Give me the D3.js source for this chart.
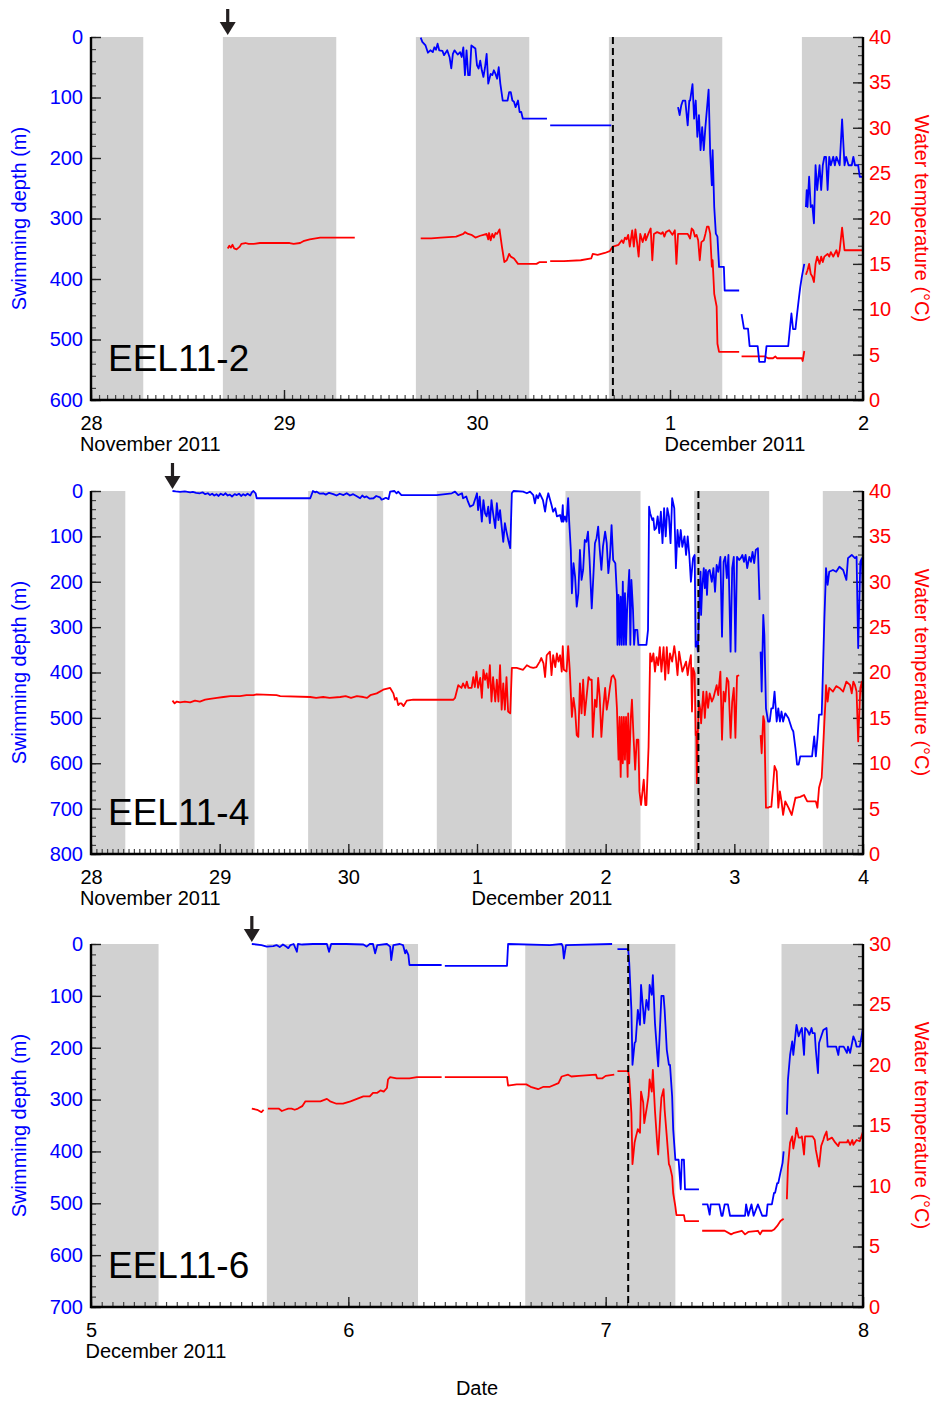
<!DOCTYPE html>
<html>
<head>
<meta charset="utf-8">
<script src="https://cdn.jsdelivr.net/npm/d3@7"></script>
<style>
  body { margin: 0; background: #fff; }
  svg text { font-family: "Liberation Sans", Arial, Helvetica, sans-serif; }
</style>
</head>
<body>
<svg id="chart" width="935" height="1401"></svg>
<script>
// ---------------------------------------------------------------------------
// Data: time is hours after 00:00 of each panel's first date.
// [hour, value]; a null value breaks the line (no record).
// ---------------------------------------------------------------------------
const tagNames = ["EEL11-2", "EEL11-4", "EEL11-6"];
const startDates = [[2011, 10, 28], [2011, 10, 28], [2011, 11, 5]];
const spanDays = [4, 6, 3];
const depthMax = [600, 800, 700];
const tempMax = [40, 40, 30];
const releaseHour = [17.0, 15.2, 15.0];
const eventHour = [64.9, 113.3, 50.1];
const monthLabels = [
  [[0, "November 2011"], [72, "December 2011"]],
  [[0, "November 2011"], [72, "December 2011"]],
  [[0, "December 2011"]]
];

// night periods (shaded)
const nights2 = [[0, 6.5], [16.4, 30.5], [40.4, 54.5], [64.4, 78.5], [88.4, 96]];
const nights4 = [[0, 6.4], [16.5, 30.5], [40.5, 54.5], [64.5, 78.5], [88.5, 102.5], [112.5, 126.5], [136.5, 144]];
const nights6 = [[0, 6.3], [16.4, 30.5], [40.5, 54.5], [64.4, 72]];

// EEL11-2
const eel2Depth = [[41.0,1],[41.2,8],[41.6,14],[41.9,26],[42.2,22],[42.5,25],[42.7,17],[42.9,21],[43.1,11],[43.3,22],[43.7,23],[43.9,30],[44.3,22],[44.6,34],[44.8,52],[45.0,28],[45.2,22],[45.6,29],[45.9,25],[46.1,33],[46.3,17],[46.5,63],[46.7,22],[46.9,63],[47.1,63],[47.3,14],[47.8,19],[48.0,47],[48.2,52],[48.4,39],[48.6,55],[48.8,66],[49.0,50],[49.2,28],[49.4,77],[49.7,61],[49.9,63],[50.1,55],[50.3,61],[50.5,69],[50.7,50],[50.9,77],[51.2,105],[51.4,105],[51.8,105],[52.0,91],[52.2,91],[52.4,105],[52.6,107],[52.8,116],[53.1,105],[53.3,124],[53.5,124],[53.7,135],[56.7,135],[56.9,null],[57.1,146],[64.7,146],[68.0,null],[73.0,116],[73.2,129],[73.4,113],[73.6,105],[73.9,105],[74.2,146],[74.4,105],[74.5,105],[74.8,78],[75.0,135],[75.2,105],[75.4,165],[75.6,129],[75.8,187],[76.0,149],[76.2,187],[76.4,149],[76.8,87],[77.0,193],[77.2,245],[77.3,187],[77.5,281],[77.7,325],[77.9,330],[78.1,380],[78.7,380],[78.8,419],[80.6,419],[80.75,null],[80.9,458],[81.2,482],[81.7,482],[81.9,511],[82.9,511],[83.1,537],[83.8,537],[84.0,511],[86.7,511],[87.1,457],[87.3,483],[87.6,483],[87.8,458],[88.0,435],[88.2,413],[88.4,396],[88.7,375],[88.8,null],[88.9,281],[89.0,253],[89.1,281],[89.3,231],[89.5,281],[89.7,278],[89.9,308],[90.1,212],[90.3,253],[90.6,212],[90.8,253],[91.0,212],[91.2,198],[91.4,198],[91.6,253],[91.8,198],[92.0,212],[92.3,198],[92.5,212],[92.7,198],[93.1,212],[93.4,136],[93.7,212],[93.9,198],[94.2,212],[94.6,212],[94.8,198],[95.0,212],[95.4,212],[95.6,231],[96.0,231]];
const eel2Temp = [[17.0,16.7],[17.2,17.0],[17.4,16.8],[17.6,17.1],[17.8,16.7],[18.1,16.6],[18.5,16.9],[18.7,17.2],[19.2,17.3],[19.6,17.2],[20.2,17.2],[21.0,17.3],[24.7,17.3],[25.2,17.2],[26.0,17.3],[26.4,17.5],[27.2,17.7],[28.5,17.9],[30.1,17.9],[32.8,17.9],[36.0,null],[41.0,17.8],[42.3,17.8],[43.5,17.9],[45.4,18.0],[46.3,18.3],[46.5,18.5],[46.9,18.3],[47.3,18.2],[47.8,17.9],[48.4,18.1],[48.8,18.2],[49.2,18.3],[49.4,17.7],[49.5,18.4],[49.7,17.6],[49.9,18.3],[50.1,17.9],[50.3,18.4],[50.5,18.3],[50.8,18.8],[51.1,16.9],[51.4,15.2],[51.7,15.4],[52.0,16.1],[52.2,15.8],[52.6,15.6],[53.1,15.0],[53.5,15.0],[55.4,15.0],[55.8,15.2],[56.7,15.2],[56.9,null],[57.1,15.3],[58.8,15.3],[60.9,15.4],[62.2,15.6],[62.4,16.1],[63.0,16.0],[63.9,16.2],[64.5,16.4],[64.8,16.8],[64.9,16.9],[65.6,17.1],[66.0,17.6],[66.2,17.3],[66.4,17.9],[66.6,17.7],[66.8,18.2],[67.0,16.9],[67.3,18.7],[67.5,16.9],[67.7,18.8],[67.9,17.4],[68.1,15.8],[68.3,18.3],[68.6,17.4],[68.9,18.3],[69.0,17.6],[69.3,18.3],[69.6,18.9],[69.8,15.4],[70.0,18.3],[70.4,18.5],[70.9,18.3],[71.1,18.5],[71.3,18.0],[71.5,18.5],[71.9,18.7],[72.3,18.2],[72.6,18.7],[72.8,15.0],[73.0,18.3],[73.6,18.3],[74.2,18.3],[74.5,17.8],[74.7,18.9],[74.9,18.7],[75.1,18.0],[75.3,18.2],[75.5,17.6],[75.7,15.4],[75.9,17.4],[76.2,17.6],[76.4,18.3],[76.6,19.1],[76.8,19.1],[77.0,18.3],[77.2,14.7],[77.3,15.4],[77.5,11.7],[77.8,10.3],[77.9,6.2],[78.1,5.3],[80.6,5.3],[80.75,null],[80.9,4.8],[83.8,4.8],[84.2,4.6],[84.8,4.6],[85.1,4.8],[85.3,4.6],[88.4,4.6],[88.5,4.3],[88.7,5.4],[88.8,null],[88.9,13.8],[89.1,14.3],[89.3,15.0],[89.5,13.9],[89.7,13.6],[89.9,13.0],[90.1,15.0],[90.3,15.8],[90.6,15.0],[90.8,15.8],[91.0,15.2],[91.2,15.8],[91.6,16.1],[91.8,15.8],[92.0,16.3],[92.3,15.8],[92.7,16.5],[92.9,15.8],[93.1,16.5],[93.4,19.0],[93.7,16.5],[96.0,16.5]];

// EEL11-4
const eel4Depth = [[15.2,0],[15.8,1],[16.6,2],[17.5,1],[18.5,3],[19.0,2],[19.6,4],[20.3,5],[20.8,3],[21.3,7],[21.8,5],[22.2,9],[22.6,6],[23.0,10],[23.4,7],[23.8,11],[24.2,6],[24.7,9],[25.1,5],[25.5,10],[25.9,8],[26.3,12],[26.8,7],[27.2,9],[27.6,6],[28.0,11],[28.4,7],[28.8,10],[29.2,6],[29.7,10],[30.0,3],[30.3,0],[30.7,5],[30.9,16],[40.9,16],[41.4,0],[41.8,3],[42.1,1.5],[42.7,6],[43.3,5],[43.8,8],[44.4,4],[45.2,7],[45.8,10],[46.4,6],[47.1,9],[47.7,5],[48.3,10],[48.9,7],[49.5,11],[50.2,16],[50.6,10],[51.0,14],[51.4,12],[52.0,17],[52.7,16],[53.2,11],[53.9,14],[54.2,19],[54.5,18],[55.0,15],[55.5,18],[55.8,1.5],[56.6,0],[57.0,5],[57.3,1.5],[57.9,9],[58.8,9],[64.5,9],[67.3,5],[67.9,1.5],[68.5,9],[69.2,5],[69.4,16],[70.0,12],[70.3,23],[70.7,34.5],[71.3,31],[71.8,12.5],[72.0,5],[72.2,42],[72.5,12.5],[72.9,67.5],[73.2,20],[73.5,49],[73.8,56],[74.1,34.5],[74.4,71],[74.7,20],[75.0,49],[75.4,82],[75.7,27],[76.0,64],[76.3,42],[76.6,78],[76.9,112],[77.2,71],[77.5,89.6],[77.9,112],[78.2,126],[78.5,5],[78.8,0],[80.6,1.5],[81.3,5],[81.9,1.5],[82.5,9],[82.8,27],[83.1,9],[83.4,16],[83.7,5],[84.3,20],[84.7,45.6],[85.0,20],[85.3,5],[85.9,31],[86.2,45.6],[86.6,38],[86.9,56],[87.5,53],[87.8,67.6],[88.0,31],[88.1,67.6],[88.4,56],[88.7,67.6],[89.0,16],[89.2,67.6],[89.5,130],[89.7,225.5],[90.0,159],[90.3,189],[90.6,255],[90.9,225.5],[91.2,130],[91.5,196],[91.8,174],[92.1,108],[92.4,112],[92.7,89.6],[93.0,152],[93.4,258.6],[93.7,189],[94.0,115],[94.3,104],[94.6,78.6],[94.9,130],[95.2,174],[95.5,122],[95.9,89.6],[96.2,115],[96.5,181],[96.8,145],[97.1,75],[97.4,152],[97.8,159],[98.1,229],[98.2,339],[98.4,229],[98.6,339],[98.8,233],[99.0,339],[99.2,200],[99.4,339],[99.6,225],[99.8,339],[100.0,262],[100.4,174],[100.6,339],[100.8,196],[101.1,262],[101.3,339],[101.5,306],[101.9,306],[102.1,339],[103.6,339],[103.9,306],[104.1,34.5],[104.3,49],[104.7,64],[104.9,60],[105.1,86],[105.4,82],[105.7,56],[106.0,93],[106.3,45.6],[106.6,115],[106.9,38],[107.2,100],[107.5,38],[107.8,56],[108.1,115],[108.4,16],[108.8,38],[109.1,170],[109.4,86],[109.7,123],[110.0,86],[110.3,123],[110.7,100],[111.0,141],[111.3,100],[111.6,141],[111.9,200],[112.3,148],[112.6,141],[112.8,343],[113.0,332],[113.2,354],[113.4,273],[113.7,178],[113.8,273],[114.0,214],[114.3,170],[114.5,214],[114.7,174],[114.9,229],[115.1,178],[115.4,174],[115.8,200],[116.1,170],[116.4,222],[116.7,163],[117.0,178],[117.4,145],[117.7,321],[118.0,156],[118.3,145],[118.6,192],[118.9,141],[119.3,354],[119.6,170],[119.9,145],[120.2,354],[120.5,145],[120.9,152],[121.2,148],[121.5,141],[121.8,156],[122.1,141],[122.4,170],[122.8,145],[123.1,156],[123.4,134],[123.7,159],[124.0,130],[124.4,126],[124.7,240],[124.8,null],[124.9,354],[125.1,442],[125.4,273],[125.6,317],[125.9,479],[126.3,508],[126.6,508],[126.9,479],[127.2,479],[127.5,442],[127.9,508],[128.2,479],[128.5,508],[128.8,486],[129.1,508],[129.5,490],[130.1,501],[130.7,523],[131.0,530],[131.4,567],[131.7,603],[132.0,603],[132.3,585],[132.6,585],[134.5,585],[134.9,541],[135.2,585],[135.5,545],[135.8,493],[136.3,493],[136.8,280],[137.0,211],[137.1,170],[137.4,207],[137.7,178],[138.4,174],[139.0,178],[139.6,167],[140.3,174],[140.9,196],[141.2,148],[141.9,141],[142.5,148],[142.8,145],[143.1,346],[143.5,156],[143.8,148],[144.0,236]];
const eel4Temp = [[15.2,16.9],[15.6,16.6],[16.0,16.8],[16.6,16.7],[17.5,16.8],[18.5,16.7],[19.4,16.9],[20.3,16.8],[21.3,17.0],[22.2,17.1],[23.5,17.2],[24.7,17.3],[26.0,17.4],[27.8,17.4],[29.0,17.5],[30.3,17.5],[30.9,17.6],[34.6,17.5],[35.3,17.4],[40.9,17.3],[42.0,17.2],[43.3,17.3],[44.5,17.2],[46.5,17.3],[47.5,17.4],[48.5,17.2],[49.6,17.4],[50.8,17.3],[51.5,17.2],[52.1,17.5],[53.3,17.7],[54.5,18.1],[55.8,18.3],[56.4,17.7],[56.7,17.0],[57.0,17.2],[57.3,16.4],[57.6,16.6],[57.9,16.6],[58.3,16.3],[58.9,16.9],[60.1,17.0],[64.5,17.0],[67.6,17.0],[67.9,17.2],[68.5,18.6],[69.1,18.3],[69.4,18.8],[69.8,18.3],[70.1,19.0],[70.4,18.3],[71.0,18.3],[71.3,19.5],[71.6,18.4],[71.9,20.1],[72.2,18.3],[72.6,19.4],[72.9,17.2],[73.2,20.3],[73.5,19.2],[73.8,19.9],[74.1,18.3],[74.4,20.8],[74.7,16.8],[75.0,19.5],[75.4,16.8],[75.7,19.2],[76.0,16.8],[76.3,20.8],[76.6,15.9],[76.9,18.8],[77.2,15.9],[77.5,19.5],[77.8,15.7],[78.2,15.5],[78.5,20.5],[79.4,20.5],[80.6,20.3],[81.3,20.8],[81.9,20.6],[82.5,20.5],[83.1,20.6],[83.7,21.2],[84.0,21.6],[84.4,21.0],[84.7,19.5],[85.0,21.9],[85.6,22.3],[85.9,19.7],[86.2,21.9],[86.6,20.6],[86.9,22.1],[87.2,21.2],[87.5,21.9],[87.8,20.1],[88.0,22.9],[88.2,20.3],[88.7,20.1],[89.0,22.9],[89.3,20.3],[89.7,15.1],[90.0,17.2],[90.3,15.9],[90.6,13.1],[90.9,12.9],[91.2,18.8],[91.5,15.5],[91.8,19.2],[92.1,15.3],[92.8,19.5],[93.1,19.2],[93.4,19.2],[93.6,12.9],[94.0,17.0],[94.3,16.2],[94.6,19.4],[94.9,17.2],[95.2,12.9],[95.6,16.4],[95.9,18.3],[96.2,15.9],[96.5,17.0],[96.8,18.4],[97.1,19.5],[97.4,19.7],[97.8,19.2],[98.1,16.1],[98.4,10.4],[98.6,15.1],[98.8,8.5],[99.0,15.1],[99.2,10.0],[99.4,15.1],[99.6,10.4],[99.8,15.1],[100.1,8.5],[100.2,15.5],[100.4,10.0],[100.7,15.1],[100.9,17.0],[101.2,12.9],[101.5,9.3],[101.8,12.6],[102.1,12.6],[102.3,6.9],[102.6,5.4],[103.1,8.2],[103.4,5.4],[103.6,5.4],[104.0,11.8],[104.3,22.1],[104.6,21.2],[104.9,22.1],[105.2,20.1],[105.5,21.7],[105.8,20.8],[106.1,22.8],[106.4,20.1],[106.8,22.8],[107.1,19.2],[107.4,22.8],[107.7,19.9],[108.0,22.1],[108.4,21.2],[108.8,22.9],[109.1,21.6],[109.4,19.7],[109.7,22.3],[110.3,20.1],[111.0,21.2],[111.3,19.7],[111.6,21.0],[111.9,21.9],[112.1,15.7],[112.3,20.5],[112.6,19.9],[112.8,13.1],[112.9,13.5],[113.0,7.8],[113.2,13.5],[113.4,16.8],[113.7,15.7],[113.8,14.4],[114.2,17.9],[114.5,15.0],[114.8,17.9],[115.1,16.1],[115.4,17.7],[115.8,16.8],[116.1,17.2],[116.4,17.9],[116.7,18.6],[117.0,17.5],[117.4,20.1],[117.7,12.6],[118.0,17.9],[118.3,16.8],[118.6,19.4],[118.9,19.0],[119.3,12.8],[119.6,16.8],[119.9,18.3],[120.2,12.8],[120.5,19.6],[120.9,19.7],[122.0,null],[124.9,13.1],[125.1,11.1],[125.4,15.2],[125.6,14.6],[125.9,5.1],[126.3,5.1],[126.6,5.2],[126.9,5.2],[127.2,7.3],[127.5,9.7],[127.9,9.1],[128.2,5.1],[128.5,6.9],[128.8,5.8],[129.1,4.3],[129.5,5.8],[130.1,5.1],[130.7,4.3],[131.4,6.2],[131.7,6.2],[132.3,6.3],[133.0,6.5],[133.6,5.8],[134.5,5.8],[135.2,5.8],[135.5,5.1],[135.8,7.3],[136.3,8.4],[136.8,14.6],[137.0,16.8],[137.1,18.6],[137.4,16.8],[137.7,18.3],[138.4,17.9],[139.0,18.5],[139.6,18.3],[140.3,17.9],[140.9,19.0],[141.6,18.6],[141.9,17.7],[142.2,19.0],[142.5,18.6],[142.8,17.9],[143.1,12.4],[143.5,18.3],[143.8,19.0],[144.0,16.8]];

// EEL11-6
const eel6Depth = [[15.0,0],[15.9,2],[16.4,5],[17.0,4],[17.3,2],[17.6,6],[17.9,1],[18.2,5],[18.4,8],[18.6,2],[18.9,0],[19.2,15],[19.3,0],[19.7,1],[20.7,0],[22.0,0],[22.2,15],[22.4,0],[23.8,0],[25.4,1],[25.7,5],[26.0,0],[26.3,0],[26.5,18],[26.7,2],[27.6,0],[27.9,5],[28.0,31],[28.2,2],[28.8,0],[29.1,2],[29.3,18],[29.4,12],[29.6,21],[29.7,40.5],[32.7,40.5],[32.85,null],[33.0,42],[38.8,42],[38.9,0],[42.8,2],[43.9,0],[44.0,5],[44.1,28],[44.3,2],[48.6,0],[48.85,null],[49.1,10],[50.1,10],[50.2,37],[50.4,127],[50.5,233],[50.7,191],[50.8,188],[51.0,127],[51.2,156],[51.3,79],[51.5,127],[51.6,153],[51.8,108],[52.0,127],[52.1,79],[52.3,98],[52.4,60],[52.6,153],[52.8,210],[52.9,236],[53.1,146],[53.2,100],[53.4,100],[53.5,127],[53.7,204],[53.9,233],[54.0,233],[54.2,294],[54.3,358],[54.5,416],[54.8,416],[55.0,473],[55.1,416],[55.3,416],[55.4,473],[56.7,473],[56.85,null],[57.0,502],[57.5,502],[57.7,522],[57.8,502],[58.6,502],[58.8,524],[58.9,524],[59.1,502],[59.4,502],[59.6,524],[61.0,524],[61.1,502],[61.3,524],[61.6,502],[61.8,524],[62.2,502],[62.6,524],[63.0,524],[63.1,502],[63.5,502],[63.7,480],[63.8,480],[64.0,461],[64.1,461],[64.3,441],[64.5,422],[64.6,400],[64.75,null],[64.9,329],[65.0,262],[65.2,214],[65.4,188],[65.5,214],[65.7,175],[65.8,156],[66.0,178],[66.2,166],[66.3,162],[66.5,214],[66.6,162],[66.8,166],[67.0,175],[67.2,162],[67.3,172],[67.5,172],[67.6,204],[67.8,249],[67.9,191],[68.3,166],[68.6,162],[68.7,198],[69.1,198],[69.5,198],[69.7,214],[69.8,198],[70.2,198],[70.5,210],[70.6,198],[70.8,210],[71.1,178],[71.3,188],[71.4,198],[71.7,198],[72.0,162]];
const eel6Temp = [[15.0,16.4],[15.5,16.3],[15.9,16.1],[16.1,16.3],[16.3,null],[16.5,16.4],[17.0,16.4],[17.5,16.4],[17.8,16.2],[18.1,16.3],[18.4,16.4],[18.7,16.4],[19.0,16.3],[19.3,16.4],[19.7,16.6],[20.0,17.0],[21.4,17.0],[22.0,17.2],[22.3,17.0],[22.9,16.8],[23.5,16.8],[24.2,17.0],[24.5,17.1],[24.8,17.2],[25.4,17.4],[26.0,17.4],[26.3,17.7],[26.7,17.7],[27.0,17.9],[27.3,17.8],[27.6,18.1],[27.7,18.8],[27.9,19.0],[28.5,18.9],[29.7,18.9],[30.4,19.0],[32.7,19.0],[32.85,null],[33.0,19.0],[36.3,19.0],[38.8,19.0],[38.9,18.3],[39.7,18.4],[40.6,18.4],[41.0,18.2],[41.7,18.0],[42.2,18.2],[42.8,18.2],[43.6,18.5],[43.9,19.05],[44.5,19.2],[44.8,19.05],[45.5,19.1],[47.1,19.2],[47.2,18.9],[47.7,18.9],[48.0,19.1],[48.8,19.2],[48.95,null],[49.1,19.5],[50.1,19.5],[50.2,18.9],[50.4,16.0],[50.5,11.8],[50.7,13.6],[50.8,14.0],[51.0,14.7],[51.2,14.4],[51.3,17.8],[51.5,16.9],[51.6,15.2],[51.8,16.3],[52.0,17.4],[52.1,18.8],[52.3,17.8],[52.4,19.6],[52.6,16.2],[52.8,13.6],[52.9,12.6],[53.1,16.0],[53.2,17.3],[53.4,18.0],[53.5,16.3],[53.7,14.1],[53.9,11.8],[54.0,11.6],[54.2,10.8],[54.3,9.4],[54.5,8.3],[54.6,7.6],[55.3,7.6],[55.4,7.1],[56.7,7.1],[56.85,null],[57.0,6.3],[59.1,6.3],[59.7,6.0],[59.9,6.1],[60.7,6.3],[61.0,6.0],[61.3,6.2],[62.2,6.3],[62.4,6.0],[62.6,6.3],[63.5,6.3],[63.7,6.4],[64.0,6.7],[64.3,7.1],[64.6,7.3],[64.75,null],[64.9,8.9],[65.0,11.6],[65.2,13.6],[65.4,14.1],[65.5,13.1],[65.7,14.1],[65.8,14.8],[66.0,14.0],[66.2,14.0],[66.3,14.1],[66.5,12.6],[66.6,14.1],[67.0,14.1],[67.3,14.1],[67.5,13.8],[67.6,13.0],[67.9,11.6],[68.1,13.3],[68.3,13.8],[68.4,14.1],[68.6,14.5],[68.7,13.8],[69.1,14.0],[69.4,13.6],[69.7,13.3],[69.8,13.6],[70.2,13.6],[70.5,13.6],[70.6,13.8],[70.8,13.4],[71.0,13.8],[71.1,13.4],[71.4,13.8],[71.7,13.7],[72.0,14.5]];

const depthSeries = [eel2Depth, eel4Depth, eel6Depth];
const tempSeries = [eel2Temp, eel4Temp, eel6Temp];
const nightSeries = [nights2, nights4, nights6];

// ---------------------------------------------------------------------------
// Layout
// ---------------------------------------------------------------------------
const LEFT = 91, RIGHT = 863, PLOT_H = 363;
const panelTops = [37, 491, 944];
const BLUE = "#0000ff", RED = "#ff0000", NIGHT = "#d1d1d1";
const FONT = 20;

const svg = d3.select("#chart");

function styleAxis(g, color, tickColor, width) {
  g.select(".domain").remove();
  g.selectAll(".tick line").attr("stroke", tickColor).attr("stroke-width", width);
  g.selectAll(".tick text").attr("fill", color).attr("font-size", FONT)
    .attr("font-family", '"Liberation Sans", Arial, sans-serif');
}

tagNames.forEach((name, i) => {
  const top = panelTops[i], bottom = top + PLOT_H;
  const [yy, mm, dd] = startDates[i];
  const t0 = Date.UTC(yy, mm, dd);
  const at = h => new Date(t0 + h * 3600000);

  const x = d3.scaleUtc().domain([at(0), at(spanDays[i] * 24)]).range([LEFT, RIGHT]);
  const yDepth = d3.scaleLinear().domain([0, depthMax[i]]).range([top, bottom]);
  const yTemp = d3.scaleLinear().domain([0, tempMax[i]]).range([bottom, top]);

  const g = svg.append("g");

  // night shading
  g.append("g").selectAll("rect").data(nightSeries[i]).join("rect")
    .attr("x", d => x(at(d[0])))
    .attr("width", d => x(at(d[1])) - x(at(d[0])))
    .attr("y", top).attr("height", PLOT_H)
    .attr("fill", NIGHT);

  // minor + major ticks
  const xMinor = g.append("g").attr("transform", `translate(0,${bottom})`)
    .call(d3.axisBottom(x).ticks(d3.utcHour.every(1)).tickFormat("").tickSize(-5).tickSizeOuter(0));
  styleAxis(xMinor, "#000", "#444", 1.2);
  const xMajor = g.append("g").attr("transform", `translate(0,${bottom})`)
    .call(d3.axisBottom(x).ticks(d3.utcDay.every(1)).tickFormat(d3.utcFormat("%-d"))
      .tickSize(-10).tickSizeOuter(0).tickPadding(16));
  styleAxis(xMajor, "#000", "#222", 1.4);

  const yMinor = g.append("g").attr("transform", `translate(${LEFT},0)`)
    .call(d3.axisLeft(yDepth).tickValues(d3.range(0, depthMax[i] + 1, 20)).tickFormat("").tickSize(-5).tickSizeOuter(0));
  styleAxis(yMinor, BLUE, "#444", 1.2);
  const yMajor = g.append("g").attr("transform", `translate(${LEFT},0)`)
    .call(d3.axisLeft(yDepth).tickValues(d3.range(0, depthMax[i] + 1, 100)).tickSize(-10).tickSizeOuter(0).tickPadding(8));
  styleAxis(yMajor, BLUE, "#222", 1.4);

  const tMinor = g.append("g").attr("transform", `translate(${RIGHT},0)`)
    .call(d3.axisRight(yTemp).tickValues(d3.range(0, tempMax[i] + 1, 1)).tickFormat("").tickSize(-5).tickSizeOuter(0));
  styleAxis(tMinor, RED, "#444", 1.2);
  const tMajor = g.append("g").attr("transform", `translate(${RIGHT},0)`)
    .call(d3.axisRight(yTemp).tickValues(d3.range(0, tempMax[i] + 1, 5)).tickSize(-10).tickSizeOuter(0).tickPadding(6));
  styleAxis(tMajor, RED, "#222", 1.4);

  // series
  const depthLine = d3.line().defined(d => d[1] !== null)
    .x(d => x(at(d[0]))).y(d => yDepth(d[1]));
  const tempLine = d3.line().defined(d => d[1] !== null)
    .x(d => x(at(d[0]))).y(d => yTemp(d[1]));

  g.append("path").datum(tempSeries[i]).attr("d", tempLine)
    .attr("fill", "none").attr("stroke", RED).attr("stroke-width", 1.8).attr("stroke-linejoin", "round");
  g.append("path").datum(depthSeries[i]).attr("d", depthLine)
    .attr("fill", "none").attr("stroke", BLUE).attr("stroke-width", 1.8).attr("stroke-linejoin", "round");

  // event marker
  const ex = x(at(eventHour[i]));
  g.append("line").attr("x1", ex).attr("x2", ex).attr("y1", top).attr("y2", bottom)
    .attr("stroke", "#000").attr("stroke-width", 2).attr("stroke-dasharray", "7,4");

  // frame
  g.append("path")
    .attr("d", `M${LEFT},${top}V${bottom}H${RIGHT}V${top}`)
    .attr("fill", "none").attr("stroke", "#000").attr("stroke-width", 2.4);

  // release arrow
  const rx = x(at(releaseHour[i]));
  g.append("line").attr("x1", rx).attr("x2", rx).attr("y1", top - 28).attr("y2", top - 13)
    .attr("stroke", "#231f20").attr("stroke-width", 3.2);
  g.append("path")
    .attr("d", `M${rx - 8},${top - 15}L${rx + 8},${top - 15}L${rx},${top - 2}Z`)
    .attr("fill", "#231f20");

  // month labels aligned with the left edge of the day label
  monthLabels[i].forEach(([h, label]) => {
    const dayText = d3.utcFormat("%-d")(at(h));
    const probe = svg.append("text").attr("font-size", FONT).text(dayText);
    const w = probe.node().getComputedTextLength();
    probe.remove();
    g.append("text")
      .attr("x", x(at(h)) - w / 2).attr("y", bottom + 51)
      .attr("font-size", FONT).attr("fill", "#000")
      .text(label);
  });

  // tag name
  g.append("text").attr("x", 108).attr("y", bottom - 29)
    .attr("font-size", 37).attr("fill", "#000").text(name);

  // axis titles
  const mid = (top + bottom) / 2;
  g.append("text").attr("transform", `translate(26,${mid}) rotate(-90)`)
    .attr("text-anchor", "middle").attr("font-size", FONT).attr("fill", BLUE)
    .text("Swimming depth (m)");
  g.append("text").attr("transform", `translate(915,${mid}) rotate(90)`)
    .attr("text-anchor", "middle").attr("font-size", FONT).attr("fill", RED)
    .text("Water temperature (°C)");
});

svg.append("text").attr("x", (LEFT + RIGHT) / 2).attr("y", 1395)
  .attr("text-anchor", "middle").attr("font-size", FONT).attr("fill", "#000")
  .text("Date");
</script>
</body>
</html>
